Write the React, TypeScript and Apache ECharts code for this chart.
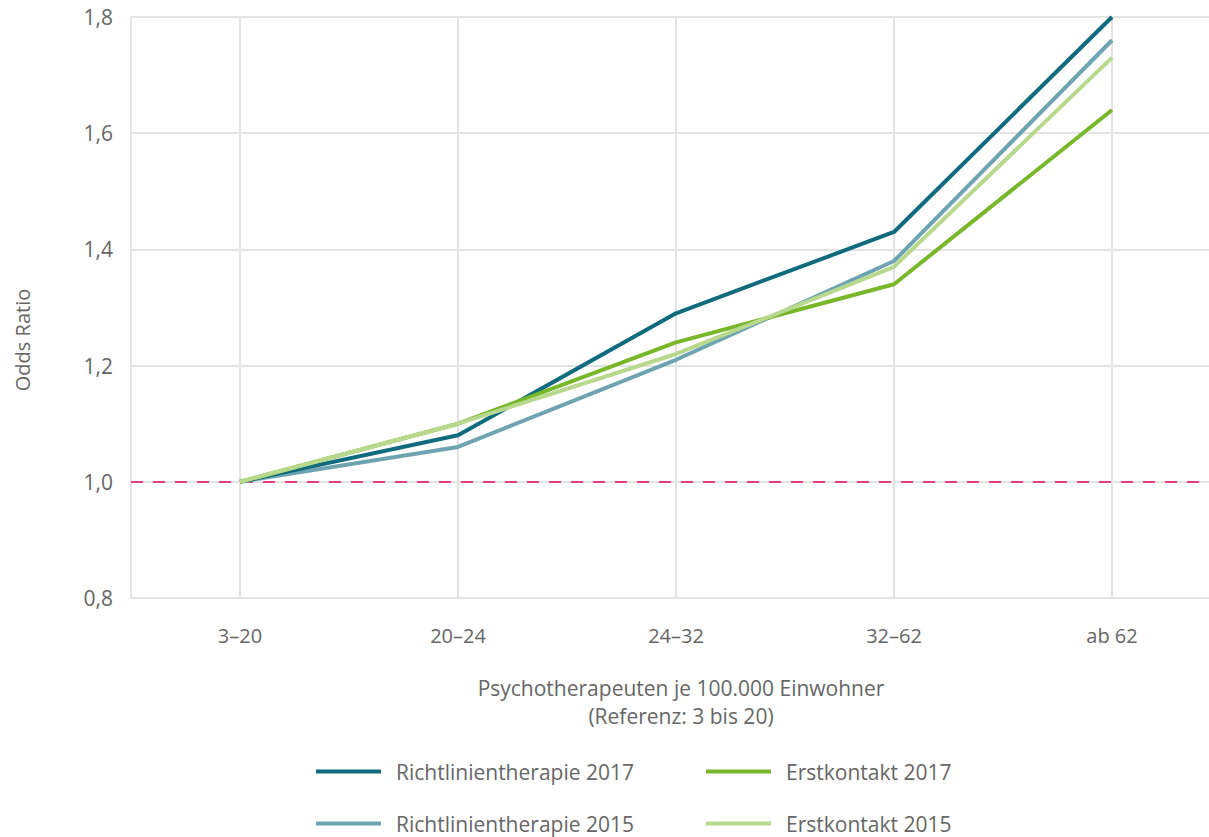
import React, { useEffect, useRef } from "react";
import * as echarts from "echarts";

const categories = ["3–20", "20–24", "24–32", "32–62", "ab 62"];
const rl2017 = [1.0, 1.08, 1.29, 1.43, 1.8];
const rl2015 = [1.0, 1.06, 1.21, 1.38, 1.76];
const ek2017 = [1.0, 1.1, 1.24, 1.34, 1.64];
const ek2015 = [1.0, 1.1, 1.22, 1.37, 1.73];
const yTicks = { min: 0.8, max: 1.8, interval: 0.2 };
const referenceValue = 1.0;

const FONT = "'Open Sans', 'Noto Sans', sans-serif";
const GRAY = "#666666";
const GRID = "#e3e3e3";

const C_RL17 = "#0f6b7d";
const C_RL15 = "#6ea3b2";
const C_EK17 = "#78b72a";
const C_EK15 = "#b7d88d";

export default function App() {
  const ref = useRef<HTMLDivElement>(null);
  useEffect(() => {
    if (!ref.current) return;
    const chart = echarts.init(ref.current, undefined, { renderer: "svg" });
    const legendItem = (name: string, left: number, top: number) => ({
      show: true,
      data: [{ name, icon: "rect" }],
      left,
      top,
      padding: 0,
      itemWidth: 65,
      itemHeight: 4,
      textStyle: { fontFamily: FONT, fontSize: 21, color: GRAY, padding: [0, 0, 0, 10] },
    });
    chart.setOption({
      animation: false,
      grid: { left: 131, top: 17, width: 1090, height: 581, containLabel: false },
      legend: [
        legendItem("Richtlinientherapie 2017", 316, 761),
        legendItem("Erstkontakt 2017", 706, 761),
        legendItem("Richtlinientherapie 2015", 316, 813),
        legendItem("Erstkontakt 2015", 706, 813),
      ],
      xAxis: {
        type: "category",
        data: categories,
        boundaryGap: true,
        axisTick: { show: false },
        axisLine: { show: true, lineStyle: { color: GRID, width: 2 } },
        splitLine: { show: false },
        axisLabel: { fontFamily: FONT, fontSize: 20, color: GRAY, margin: 27 },
      },
      yAxis: {
        type: "value",
        min: yTicks.min,
        max: yTicks.max,
        interval: yTicks.interval,
        axisLine: { show: true, lineStyle: { color: GRID, width: 2 } },
        axisTick: { show: false },
        splitLine: { show: true, lineStyle: { color: GRID, width: 2 } },
        axisLabel: {
          fontFamily: FONT,
          fontSize: 21,
          color: GRAY,
          margin: 18,
          formatter: (v: number) => v.toFixed(1).replace(".", ","),
        },
      },
      graphic: [
        {
          type: "text",
          x: 22,
          y: 340,
          rotation: Math.PI / 2,
          style: {
            text: "Odds Ratio",
            fontFamily: FONT,
            fontSize: 20,
            fill: GRAY,
            align: "center",
            verticalAlign: "middle",
          },
        },
        {
          type: "text",
          x: 681,
          y: 688,
          style: {
            text: "Psychotherapeuten je 100.000 Einwohner",
            fontFamily: FONT,
            fontSize: 21,
            fill: GRAY,
            align: "center",
            verticalAlign: "middle",
          },
        },
        {
          type: "text",
          x: 681,
          y: 716,
          style: {
            text: "(Referenz: 3 bis 20)",
            fontFamily: FONT,
            fontSize: 21,
            fill: GRAY,
            align: "center",
            verticalAlign: "middle",
          },
        },
      ],
      series: [
        {
          name: "gridlines",
          type: "line",
          data: [],
          silent: true,
          z: 1,
          markLine: {
            silent: true,
            z: 1,
            symbol: "none",
            label: { show: false },
            lineStyle: { color: GRID, width: 2, type: "solid" },
            data: categories.map((c) => ({ xAxis: c })),
          },
        },
        {
          name: "reference",
          type: "line",
          data: [],
          silent: true,
          z: 2,
          markLine: {
            silent: true,
            z: 2,
            symbol: "none",
            label: { show: false },
            lineStyle: { color: "#e0407f", width: 2, type: [12, 10] },
            data: [{ yAxis: referenceValue }],
          },
        },
        {
          name: "Richtlinientherapie 2015",
          type: "line",
          data: rl2015,
          showSymbol: false,
          z: 3,
          lineStyle: { color: C_RL15, width: 4 },
          itemStyle: { color: C_RL15 },
        },
        {
          name: "Richtlinientherapie 2017",
          type: "line",
          data: rl2017,
          showSymbol: false,
          z: 3,
          lineStyle: { color: C_RL17, width: 4 },
          itemStyle: { color: C_RL17 },
        },
        {
          name: "Erstkontakt 2017",
          type: "line",
          data: ek2017,
          showSymbol: false,
          z: 3,
          lineStyle: { color: C_EK17, width: 4 },
          itemStyle: { color: C_EK17 },
        },
        {
          name: "Erstkontakt 2015",
          type: "line",
          data: ek2015,
          showSymbol: false,
          z: 3,
          lineStyle: { color: C_EK15, width: 4 },
          itemStyle: { color: C_EK15 },
        },
      ],
    });
    return () => chart.dispose();
  }, []);
  return (
    <div style={{ position: "absolute", left: 0, top: 0, width: 1209, height: 837, overflow: "hidden" }}>
      <div ref={ref} style={{ width: 1222, height: 837 }} />
    </div>
  );
}
